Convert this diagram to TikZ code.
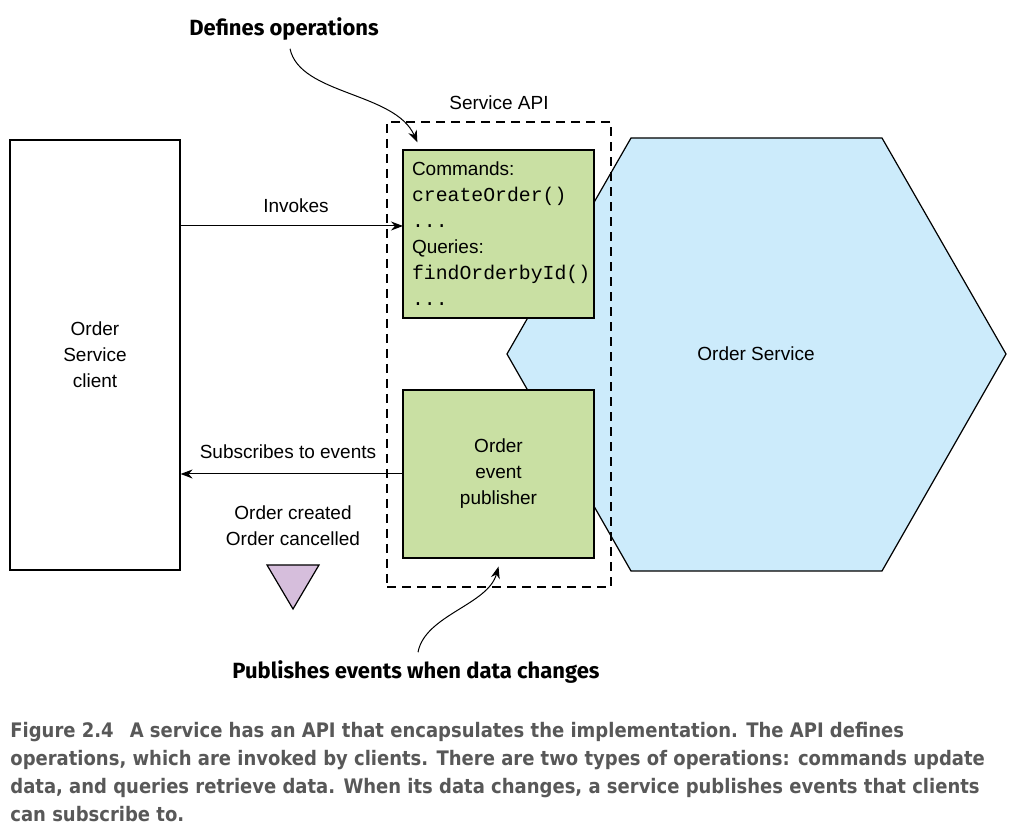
\documentclass[tikz,border=0pt]{standalone}
\usepackage{fontspec}
\setmainfont{Liberation Sans}
\setmonofont{Liberation Mono}
\newfontfamily\notefont{Fira Sans}
\newfontfamily\capfont{DejaVu Sans Condensed}
\usetikzlibrary{arrows.meta}
\definecolor{cmdgreen}{RGB}{201,224,163}
\definecolor{svcblue}{RGB}{204,235,251}
\definecolor{evtpurple}{RGB}{214,190,220}
\definecolor{capgray}{RGB}{88,88,88}
\tikzset{
  box/.style={draw, line width=0.6pt, rectangle},
  greenbox/.style={box, fill=cmdgreen},
  arr/.style={-{Stealth[length=6pt,width=4.5pt]}, line width=0.5pt},
  lbl/.style={font=\fontsize{9.5}{13}\selectfont, inner sep=0pt},
  note/.style={font=\notefont\bfseries\fontsize{11}{13}\selectfont, inner sep=0pt}
}
\newcommand\code[1]{{\ttfamily\fontsize{9.9}{13}\selectfont #1}}
\begin{document}
\begin{tikzpicture}[x=0.5pt,y=-0.5pt]
	\useasboundingbox (0,0) rectangle (1013,838);
	
		% service hexagon
		\draw[fill=svcblue, line width=0.6pt] (631,138) -- (882,138) -- (1006,354)
		-- (882,571) -- (631,571) -- (507,354) -- cycle;
		\node[lbl] (svc) at (756,354) {Order Service};
		
		% service API border
		\node[draw, dash pattern=on 4.5pt off 3pt, line width=0.6pt, minimum width=112pt,
		minimum height=232.5pt, inner sep=0pt] (api) at (499,354.5) {};
		\node[lbl] (apilbl) at (499,103) {Service API};
		
		% client
		\node[box, lbl, minimum width=85pt, minimum height=215pt, align=center] (client)
		at (95,355) {Order\\Service\\client};
		
		% operations
		\node[greenbox, minimum width=95.5pt, minimum height=84pt, text width=86.5pt,
		inner xsep=4.5pt, inner ysep=0pt, align=left, font=\fontsize{9.5}{13}\selectfont] (cmd)
		at (498.5,234) {Commands:\\ \code{createOrder()}\\ \code{...}\\ Queries:\\
		\code{findOrderbyId()}\\ \code{...}};
		
		% publisher
		\node[greenbox, lbl, minimum width=95.5pt, minimum height=84pt, align=center] (pub)
		at (498.5,474) {Order\\event\\publisher};
		
		% invokes
		\coordinate (inv) at (403,226);
		\draw[arr] (client.east |- inv) -- (inv);
		\node[lbl] (invlbl) at (296,206) {Invokes};
		
		% events
		\draw[arr] (pub.west) -- (client.east |- pub.west);
		\node[lbl] (sublbl) at (288,452) {Subscribes to events};
		\node[lbl, align=center] (evts) at (293,525.5) {Order created\\Order cancelled};
		\draw[fill=evtpurple, line width=0.6pt] (267,565) -- (319,565) -- (293,609) -- cycle;
		
		% notes
		\node[note] (defop) at (284,29) {Defines operations};
		\draw[arr] ([xshift=3pt,yshift=-4pt]defop.south) .. controls (300,95) and (395,92)
		.. ([xshift=7.5pt,yshift=3.5pt]cmd.north west);
		\node[note] (pubnote) at (416,672) {Publishes events when data changes};
		\draw[arr] ([xshift=1pt,yshift=4pt]pubnote.north) .. controls (425,615) and (488,605)
		.. ([yshift=-4pt]pub.south);
		
		% caption
		\node[anchor=north west, align=left, inner sep=0pt, text=capgray,
		font=\capfont\bfseries\fontsize{10}{14}\selectfont] (cap) at (10,722)
		{Figure 2.4\hspace{8pt}A service has an API that encapsulates the implementation. The API defines\\
		operations, which are invoked by clients. There are two types of operations: commands update\\
		data, and queries retrieve data. When its data changes, a service publishes events that clients\\
		can subscribe to.};
	
\end{tikzpicture}
\end{document}
